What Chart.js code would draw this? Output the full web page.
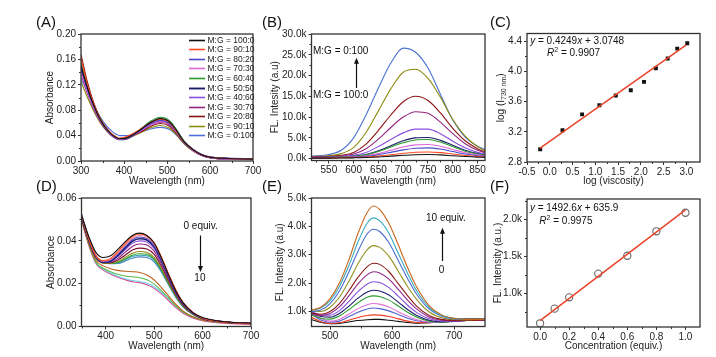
<!DOCTYPE html>
<html><head><meta charset="utf-8">
<script src="https://cdn.jsdelivr.net/npm/chart.js@4.4.1/dist/chart.umd.min.js"></script>
<style>
html,body{margin:0;padding:0;background:#fff;}
#wrap{position:relative;width:716px;height:357px;overflow:hidden;background:#fff;}
canvas{position:absolute;left:0;top:0;}
</style></head><body><div id="wrap">
<canvas id="cA" width="716" height="357"></canvas>
<canvas id="cB" width="716" height="357"></canvas>
<canvas id="cC" width="716" height="357"></canvas>
<canvas id="cD" width="716" height="357"></canvas>
<canvas id="cE" width="716" height="357"></canvas>
<canvas id="cF" width="716" height="357"></canvas>
</div>
<script>
// ---------------- Panel A: absorbance, M:G series ----------------
const A_WL = [300,315,330,345,360,375,390,405,420,440,460,485,505,520,540,560,580,600,640,700];
const A_LABELS = ['M:G = 100:0','M:G = 90:10','M:G = 80:20','M:G = 70:30','M:G = 60:40','M:G = 50:50','M:G = 40:60','M:G = 30:70','M:G = 20:80','M:G = 90:10','M:G = 0:100'];
const A_100_0 = [.150,.115,.087,.065,.050,.040,.035,.036,.041,.050,.060,.067,.062,.050,.030,.018,.010,.006,.004,.003];
const A_90_10 = [.162,.120,.089,.066,.051,.041,.036,.038,.043,.051,.060,.066,.061,.049,.030,.018,.010,.006,.004,.003];
const A_80_20 = [.148,.113,.086,.065,.050,.040,.035,.036,.041,.049,.058,.064,.059,.048,.029,.018,.010,.006,.004,.003];
const A_70_30 = [.140,.108,.083,.063,.049,.039,.034,.035,.040,.048,.056,.062,.058,.047,.029,.017,.009,.005,.003,.002];
const A_60_40 = [.158,.118,.088,.066,.050,.040,.034,.035,.041,.051,.062,.069,.064,.051,.031,.018,.010,.006,.004,.003];
const A_50_50 = [.145,.111,.085,.064,.049,.039,.034,.035,.040,.050,.060,.066,.062,.050,.030,.018,.010,.006,.004,.003];
const A_40_60 = [.155,.116,.087,.065,.050,.040,.035,.036,.041,.049,.058,.063,.059,.048,.029,.017,.009,.005,.003,.003];
const A_30_70 = [.138,.106,.081,.062,.048,.038,.034,.035,.040,.047,.056,.061,.057,.047,.029,.017,.009,.005,.003,.003];
const A_20_80 = [.168,.124,.091,.067,.051,.040,.035,.036,.040,.046,.054,.059,.055,.045,.028,.017,.009,.005,.003,.003];
const A_10_90 = [.125,.100,.078,.060,.047,.038,.034,.035,.039,.045,.052,.056,.052,.043,.027,.016,.009,.005,.003,.003];
const A_0_100 = [.130,.108,.087,.069,.055,.045,.040,.040,.042,.046,.050,.053,.050,.042,.027,.016,.009,.005,.003,.003];
const A_XTICKS = [300,400,500,600,700];
const A_XMINOR = [350,450,550,650];
const A_YTICKS = [0,0.04,0.08,0.12,0.16,0.20];
const A_YMINOR = [0.02,0.06,0.10,0.14,0.18];

// ---------------- Panel B: fluorescence, M:G series ----------------
const B_WL = [515,550,575,600,625,650,675,700,725,750,775,800,825,850,865];
const B_100_0 = [120,130,150,190,260,400,600,800,950,1000,900,700,500,350,300];
const B_90_10 = [150,170,200,260,380,600,950,1300,1550,1600,1450,1100,750,500,400];
const B_80_20 = [200,220,260,350,550,950,1500,2100,2500,2600,2300,1700,1100,700,550];
const B_70_30 = [200,250,300,420,700,1200,2000,2800,3300,3400,3000,2200,1400,900,700];
const B_60_40 = [250,300,380,550,900,1700,2800,3800,4500,4600,4000,2900,1800,1100,800];
const B_50_50 = [250,300,400,600,1000,1900,3100,4300,5000,5100,4400,3200,2000,1200,900];
const B_40_60 = [300,400,500,800,1500,2900,4600,6200,7100,7100,6000,4200,2600,1500,1100];
const B_30_70 = [350,450,650,1100,2400,4700,7500,10000,11300,10900,8800,6000,3600,2000,1400];
const B_20_80 = [400,550,800,1500,3500,6800,10500,13700,15000,14000,11000,7300,4300,2400,1600];
const B_10_90 = [500,700,1200,2700,6300,11500,16800,20800,21500,19300,14800,9400,5400,2900,1900];
const B_0_100 = [600,1000,2000,5000,10500,17000,23000,26600,25600,21800,15500,9300,5200,3000,2200];
const B_XTICKS = [550,600,650,700,750,800,850];
const B_XMINOR = [525,575,625,675,725,775,825];
const B_YTICKS = [0,5000,10000,15000,20000,25000,30000];
const B_YMINOR = [2500,7500,12500,17500,22500,27500];

// ---------------- Panel C: log(I730) vs log(viscosity) ----------------
const C_LOGVISC = [-0.21,0.28,0.71,1.09,1.45,1.78,2.07,2.33,2.59,2.80,3.02];
const C_LOGI = [2.97,3.22,3.43,3.55,3.68,3.75,3.86,4.04,4.17,4.30,4.37];
const C_FIT_X = [-0.22,3.0];
const C_FIT_Y = [2.9813,4.3495];
const C_XTICKS = [-0.5,0,0.5,1.0,1.5,2.0,2.5,3.0];
const C_XMINOR = [-0.25,0.25,0.75,1.25,1.75,2.25,2.75];
const C_YTICKS = [2.8,3.2,3.6,4.0,4.4];
const C_YMINOR = [3.0,3.4,3.8,4.2];

// ---------------- Panel D: absorbance titration ----------------
const D_WL = [350,365,380,395,410,425,440,455,470,485,500,515,530,545,560,580,600,630,660,700];
const D_S01 = [.0520,.0420,.0345,.0322,.0330,.0360,.0395,.0425,.0436,.0425,.0390,.0320,.0240,.0165,.0110,.0065,.0042,.0027,.0020,.0016];
const D_S02 = [.0515,.0410,.0330,.0308,.0318,.0350,.0388,.0420,.0432,.0424,.0392,.0325,.0245,.0170,.0112,.0066,.0040,.0025,.0018,.0014];
const D_S03 = [.0520,.0412,.0330,.0305,.0313,.0343,.0380,.0412,.0425,.0418,.0385,.0318,.0240,.0166,.0110,.0065,.0040,.0026,.0019,.0015];
const D_S04 = [.0525,.0415,.0330,.0303,.0310,.0338,.0373,.0405,.0418,.0410,.0378,.0312,.0236,.0163,.0108,.0064,.0040,.0026,.0019,.0016];
const D_S05 = [.0510,.0405,.0325,.0300,.0305,.0332,.0366,.0398,.0410,.0404,.0373,.0308,.0232,.0160,.0106,.0063,.0039,.0025,.0018,.0015];
const D_S06 = [.0515,.0408,.0326,.0300,.0303,.0327,.0358,.0388,.0400,.0394,.0365,.0302,.0228,.0158,.0105,.0062,.0039,.0025,.0019,.0016];
const D_S07 = [.0512,.0405,.0323,.0298,.0300,.0318,.0346,.0374,.0385,.0380,.0352,.0292,.0221,.0153,.0102,.0061,.0038,.0025,.0018,.0015];
const D_S08 = [.0508,.0402,.0322,.0298,.0298,.0310,.0333,.0357,.0366,.0362,.0337,.0281,.0213,.0148,.0099,.0060,.0038,.0025,.0018,.0015];
const D_S09 = [.0505,.0400,.0320,.0296,.0295,.0303,.0322,.0342,.0350,.0346,.0323,.0270,.0205,.0143,.0096,.0058,.0037,.0024,.0018,.0015];
const D_S10 = [.0510,.0402,.0320,.0296,.0294,.0299,.0315,.0333,.0340,.0337,.0315,.0264,.0200,.0140,.0094,.0057,.0036,.0024,.0018,.0015];
const D_S11 = [.0515,.0405,.0322,.0297,.0294,.0297,.0311,.0327,.0333,.0330,.0309,.0259,.0197,.0138,.0093,.0057,.0037,.0025,.0019,.0016];
const D_S12 = [.0520,.0408,.0324,.0298,.0293,.0294,.0305,.0319,.0325,.0322,.0302,.0254,.0193,.0135,.0091,.0056,.0037,.0025,.0019,.0016];
const D_S13 = [.0505,.0390,.0308,.0283,.0270,.0262,.0258,.0256,.0252,.0240,.0217,.0182,.0142,.0103,.0072,.0046,.0031,.0021,.0016,.0013];
const D_S14 = [.0500,.0385,.0300,.0272,.0256,.0244,.0236,.0232,.0228,.0218,.0198,.0168,.0132,.0097,.0068,.0044,.0030,.0021,.0016,.0013];
const D_S15 = [.0530,.0390,.0298,.0268,.0250,.0235,.0223,.0215,.0210,.0202,.0186,.0160,.0128,.0095,.0068,.0045,.0032,.0023,.0019,.0016];
const D_S16 = [.0495,.0378,.0293,.0263,.0245,.0230,.0218,.0209,.0204,.0195,.0178,.0152,.0120,.0088,.0062,.0040,.0027,.0018,.0013,.0010];
const D_XTICKS = [400,500,600,700];
const D_XMINOR = [350,450,550,650];
const D_YTICKS = [0,0.02,0.04,0.06];
const D_YMINOR = [0.01,0.03,0.05];

// ---------------- Panel E: fluorescence titration ----------------
const E_WL = [470,485,500,515,530,545,560,570,580,595,610,625,640,660,680,700,720,750];
const E_S13 = [1050,1150,1450,2000,2800,3750,4500,4720,4600,4100,3350,2550,1850,1200,880,760,720,720];
const E_S12 = [1050,1120,1380,1880,2600,3450,4120,4300,4200,3750,3050,2350,1720,1140,860,760,720,720];
const E_S11 = [1000,1050,1280,1720,2380,3120,3740,3900,3820,3420,2800,2160,1600,1080,830,740,720,720];
const E_S10 = [1020,1000,1150,1500,2050,2680,3180,3320,3260,2940,2420,1880,1420,980,780,720,710,720];
const E_S09 = [950,900,1000,1280,1720,2200,2580,2700,2660,2400,1980,1560,1180,860,720,680,680,700];
const E_S08 = [920,860,930,1160,1540,1970,2300,2400,2360,2140,1780,1400,1080,800,690,670,680,700];
const E_S07 = [1000,880,870,1030,1350,1700,1970,2050,2020,1840,1540,1220,960,740,660,660,680,700];
const E_S06 = [950,820,800,930,1180,1470,1690,1750,1720,1580,1330,1070,860,690,630,650,680,700];
const E_S05 = [880,760,730,840,1060,1310,1500,1550,1530,1400,1190,970,800,660,620,650,680,700];
const E_S04 = [950,750,660,720,900,1100,1240,1280,1260,1160,990,830,710,630,620,660,700,720];
const E_S03 = [900,700,620,660,810,970,1090,1120,1100,1020,890,760,670,620,640,680,710,720];
const E_S02 = [800,640,580,600,690,790,860,880,870,820,740,660,610,600,640,700,720,720];
const E_S01 = [720,620,570,580,630,680,710,720,720,690,650,610,590,600,660,720,740,740];
const E_XTICKS = [500,600,700];
const E_XMINOR = [550,650];
const E_YTICKS = [1000,2000,3000,4000,5000];
const E_YMINOR = [1500,2500,3500,4500];

// ---------------- Panel F: intensity vs concentration ----------------
const F_CONC = [0,0.1,0.2,0.4,0.6,0.8,1.0];
const F_INT = [600,797,950,1270,1510,1840,2090];
const F_FIT_X = [0,1.0];
const F_FIT_Y = [635.9,2128.5];
const F_XTICKS = [0,0.2,0.4,0.6,0.8,1.0];
const F_XMINOR = [0.1,0.3,0.5,0.7,0.9];
const F_YTICKS = [1000,1500,2000];
const F_YMINOR = [750,1250,1750,2250];

// ---------------- helpers ----------------
const FONT = "'Liberation Sans', Arial, Helvetica, sans-serif";
Chart.defaults.font.family = FONT;
Chart.defaults.color = '#222';
const W = 716, H = 357;

function lineSet(xs, ys, color, label, w) {
  return {label: label, data: xs.map((x,i)=>({x:x, y:ys[i]})), borderColor: color, backgroundColor: color,
    borderWidth: w || 1.1, pointRadius: 0, cubicInterpolationMode: 'monotone', fill: false};
}
const kfmt = v => (v/1000).toFixed(1) + 'k';

function axis(o, isX, size) {
  return {
    type: 'linear', min: o.min, max: o.max, position: isX ? 'bottom' : 'left',
    afterBuildTicks: s => { s.ticks = o.ticks.map(v => ({value: v})); },
    afterFit: s => { if (isX) s.height = size; else s.width = size; },
    ticks: {font: {size: 10}, color: '#222', padding: isX ? 1 : 2, maxRotation: 0, autoSkip: false,
      callback: v => o.fmt(v)},
    grid: {drawOnChartArea: false, drawTicks: true, tickLength: 3, color: '#333', lineWidth: 1},
    border: {display: false},
    title: {display: o.title !== null, text: o.title || '', font: {size: 10}, color: '#222', padding: 0}
  };
}

function drawSegs(ctx, segs, x, y, size, align) {
  const fonts = segs.map(s => (s.i ? 'italic ' : '') + ((s.sup || s.sub) ? size * 0.7 : size) + 'px ' + FONT);
  let tot = 0;
  const ws = segs.map((s, k) => { ctx.font = fonts[k]; const w = ctx.measureText(s.t).width; tot += w; return w; });
  let cx = align === 'center' ? x - tot / 2 : x;
  ctx.textBaseline = 'middle'; ctx.textAlign = 'left';
  segs.forEach((s, k) => {
    ctx.font = fonts[k];
    let yy = y; if (s.sup) yy = y - size * 0.35; if (s.sub) yy = y + size * 0.3;
    ctx.fillText(s.t, cx, yy); cx += ws[k];
  });
}

function framePlugin(f) {
  return {
    id: 'frame',
    afterDraw(chart) {
      const ctx = chart.ctx, a = chart.chartArea, xs = chart.scales.x, ys = chart.scales.y;
      ctx.save();
      ctx.strokeStyle = '#333'; ctx.lineWidth = 1;
      (f.xMinor || []).forEach(v => { const p = Math.round(xs.getPixelForValue(v)) + 0.5; ctx.beginPath(); ctx.moveTo(p, a.bottom); ctx.lineTo(p, a.bottom + 2); ctx.stroke(); });
      (f.yMinor || []).forEach(v => { const p = Math.round(ys.getPixelForValue(v)) + 0.5; ctx.beginPath(); ctx.moveTo(a.left, p); ctx.lineTo(a.left - 2, p); ctx.stroke(); });
      ctx.lineWidth = 1.3; ctx.strokeStyle = '#333';
      ctx.strokeRect(a.left, a.top, a.right - a.left, a.bottom - a.top);
      ctx.fillStyle = '#111';
      // panel label
      ctx.font = '15px ' + FONT; ctx.textBaseline = 'middle'; ctx.textAlign = 'left';
      ctx.fillText(f.panel.t, f.panel.x, f.panel.y);
      // annotations
      (f.texts || []).forEach(t => {
        drawSegs(ctx, t.segs, xs.getPixelForValue(t.x), ys.getPixelForValue(t.y), t.size || 10, t.align || 'left');
      });
      (f.arrows || []).forEach(ar => {
        const x = Math.round(xs.getPixelForValue(ar.x)) + 0.5, y0 = ys.getPixelForValue(ar.y0), y1 = ys.getPixelForValue(ar.y1);
        const dir = y1 < y0 ? -1 : 1;
        ctx.strokeStyle = '#111'; ctx.lineWidth = 1.2;
        ctx.beginPath(); ctx.moveTo(x, y0); ctx.lineTo(x, y1 - dir * 4); ctx.stroke();
        ctx.beginPath(); ctx.moveTo(x, y1); ctx.lineTo(x - 2.5, y1 - dir * 6); ctx.lineTo(x + 2.5, y1 - dir * 6); ctx.closePath(); ctx.fill();
      });
      // legend
      if (f.legend) {
        const L = f.legend;
        chart.data.datasets.forEach((ds, i) => {
          const y = Math.round(L.y + i * L.dy) + 0.5;
          ctx.strokeStyle = ds.borderColor; ctx.lineWidth = Math.max(1.6, ds.borderWidth);
          ctx.beginPath(); ctx.moveTo(L.x, y); ctx.lineTo(L.x + L.len, y); ctx.stroke();
          ctx.fillStyle = '#222'; ctx.font = L.size + 'px ' + FONT; ctx.textAlign = 'left'; ctx.textBaseline = 'middle';
          ctx.fillText(ds.label, L.x + L.len + 2.5, y + 0.5);
        });
      }
      // rotated custom y title
      if (f.yTitle) {
        ctx.save(); ctx.fillStyle = '#222';
        ctx.translate(f.yTitle.x, (a.top + a.bottom) / 2); ctx.rotate(-Math.PI / 2);
        drawSegs(ctx, f.yTitle.segs, 0, 0, 10, 'center');
        ctx.restore();
      }
      ctx.restore();
    }
  };
}

function build(id, p) {
  return new Chart(document.getElementById(id), {
    type: p.type || 'line',
    data: {datasets: p.datasets},
    options: {
      responsive: false, animation: false, events: [],
      layout: {padding: {left: p.area.l - p.yW, right: W - p.area.r, top: p.area.t, bottom: H - p.area.b - p.xH}},
      plugins: {legend: {display: false}, tooltip: {enabled: false}},
      scales: {x: axis(p.x, true, p.xH), y: axis(p.y, false, p.yW)}
    },
    plugins: [framePlugin(p.frame)]
  });
}

// ---------------- colours ----------------
const MG_COLORS = ['#111111','#ff4a22','#4848c8','#e066d6','#2e9a2e','#1c1c6c','#8a4fe0','#92267f','#8b1414','#8c8c10','#4a72d2'];
const D_COLORS = ['#111111','#ff4a22','#f07a8a','#4848c8','#1c1c6c','#8a4fe0','#92267f','#7a1030','#8c8c10','#2e9a2e','#34a6b0','#4a80c8','#b8601c','#58b848','#6cd0e8','#d8408a'];
const E_COLORS = ['#c8661a','#3aaabb','#4a6ed0','#939320','#8b1a1a','#902a8a','#8a52dc','#1e1e70','#2e9a2e','#e070d2','#5060d0','#f23a20','#111111'];

// ---------------- Panel A ----------------
const A_CURVES = [A_100_0,A_90_10,A_80_20,A_70_30,A_60_40,A_50_50,A_40_60,A_30_70,A_20_80,A_10_90,A_0_100];
build('cA', {
  area: {l: 81, r: 253, t: 34, b: 161}, yW: 36.5, xH: 26,
  datasets: A_CURVES.map((c, i) => lineSet(A_WL, c, MG_COLORS[i], A_LABELS[i], i === 5 ? 1.9 : 1.1)),
  x: {min: 300, max: 700, ticks: A_XTICKS, fmt: v => String(v), title: 'Wavelength (nm)'},
  y: {min: 0, max: 0.2, ticks: A_YTICKS, fmt: v => v.toFixed(2), title: 'Absorbance'},
  frame: {panel: {t: '(A)', x: 36, y: 23}, xMinor: A_XMINOR, yMinor: A_YMINOR,
    legend: {x: 189, y: 39.7, dy: 9.56, len: 16, size: 8.5}}
});

// ---------------- Panel B ----------------
const B_CURVES = [B_100_0,B_90_10,B_80_20,B_70_30,B_60_40,B_50_50,B_40_60,B_30_70,B_20_80,B_10_90,B_0_100];
build('cB', {
  area: {l: 311.5, r: 485, t: 34, b: 160.5}, yW: 41.8, xH: 26.5,
  datasets: B_CURVES.map((c, i) => lineSet(B_WL, c, MG_COLORS[i], A_LABELS[i], 1.1)),
  x: {min: 515, max: 865, ticks: B_XTICKS, fmt: v => String(v), title: 'Wavelength (nm)'},
  y: {min: -450, max: 30000, ticks: B_YTICKS, fmt: kfmt, title: 'FL. Intesity (a.u)'},
  frame: {panel: {t: '(B)', x: 262, y: 23}, xMinor: B_XMINOR, yMinor: B_YMINOR,
    texts: [{x: 518, y: 25740, segs: [{t: 'M:G = 0:100'}]}, {x: 518, y: 15320, segs: [{t: 'M:G = 100:0'}]}],
    arrows: [{x: 604, y0: 17000, y1: 24300}]}
});

// ---------------- Panel C ----------------
build('cC', {
  type: 'scatter',
  area: {l: 527, r: 700, t: 33.5, b: 162}, yW: 32.3, xH: 25.5,
  datasets: [
    {data: C_FIT_X.map((x, i) => ({x: x, y: C_FIT_Y[i]})), showLine: true, borderColor: '#e8442a', borderWidth: 1.5, pointRadius: 0},
    {data: C_LOGVISC.map((x, i) => ({x: x, y: C_LOGI[i]})), showLine: false, pointStyle: 'rect', pointRadius: 2.8,
      backgroundColor: '#111', borderColor: '#111', borderWidth: 0}
  ],
  x: {min: -0.5, max: 3.3, ticks: C_XTICKS, fmt: v => v.toFixed(1), title: 'log (viscosity)'},
  y: {min: 2.8, max: 4.5, ticks: C_YTICKS, fmt: v => v.toFixed(1), title: null},
  frame: {panel: {t: '(C)', x: 490, y: 23}, xMinor: C_XMINOR, yMinor: C_YMINOR,
    yTitle: {x: 501, segs: [{t: 'log (I'}, {t: '730 nm', sub: true}, {t: ')'}]},
    texts: [{x: -0.43, y: 4.4, segs: [{t: 'y', i: true}, {t: ' = 0.4249'}, {t: 'x', i: true}, {t: ' + 3.0748'}]},
            {x: -0.06, y: 4.24, segs: [{t: 'R', i: true}, {t: '2', sup: true}, {t: ' = 0.9907'}]}]}
});

// ---------------- Panel D ----------------
const D_CURVES = [D_S01,D_S02,D_S03,D_S04,D_S05,D_S06,D_S07,D_S08,D_S09,D_S10,D_S11,D_S12,D_S13,D_S14,D_S15,D_S16];
build('cD', {
  area: {l: 81.5, r: 251, t: 198, b: 326.5}, yW: 36.5, xH: 26,
  datasets: D_CURVES.map((c, i) => lineSet(D_WL, c, D_COLORS[i], 'D' + (i + 1), i === 4 ? 1.6 : 1.1)),
  x: {min: 350, max: 700, ticks: D_XTICKS, fmt: v => String(v), title: 'Wavelength (nm)'},
  y: {min: 0, max: 0.06, ticks: D_YTICKS, fmt: v => v.toFixed(2), title: 'Absorbance'},
  frame: {panel: {t: '(D)', x: 36, y: 187}, xMinor: D_XMINOR, yMinor: D_YMINOR,
    texts: [{x: 596, y: 0.0468, segs: [{t: '0 equiv.'}], align: 'center'}, {x: 594.5, y: 0.0226, segs: [{t: '10'}], align: 'center'}],
    arrows: [{x: 594.5, y0: 0.0425, y1: 0.0255}]}
});

// ---------------- Panel E ----------------
const E_CURVES = [E_S13,E_S12,E_S11,E_S10,E_S09,E_S08,E_S07,E_S06,E_S05,E_S04,E_S03,E_S02,E_S01];
build('cE', {
  area: {l: 311.5, r: 485, t: 198, b: 326.5}, yW: 37.5, xH: 26,
  datasets: E_CURVES.map((c, i) => lineSet(E_WL, c, E_COLORS[i], 'E' + (i + 1), 1.1)),
  x: {min: 470, max: 750, ticks: E_XTICKS, fmt: v => String(v), title: 'Wavelength (nm)'},
  y: {min: 470, max: 5000, ticks: E_YTICKS, fmt: kfmt, title: 'FL. Intensity (a.u)'},
  frame: {panel: {t: '(E)', x: 262, y: 187}, xMinor: E_XMINOR, yMinor: E_YMINOR,
    texts: [{x: 687, y: 4270, segs: [{t: '10 equiv.'}], align: 'center'}, {x: 680, y: 2450, segs: [{t: '0'}], align: 'center'}],
    arrows: [{x: 680, y0: 2780, y1: 3950}]}
});

// ---------------- Panel F ----------------
build('cF', {
  type: 'scatter',
  area: {l: 527, r: 700, t: 199, b: 327}, yW: 34.7, xH: 25.5,
  datasets: [
    {data: F_FIT_X.map((x, i) => ({x: x, y: F_FIT_Y[i]})), showLine: true, borderColor: '#e8442a', borderWidth: 1.5, pointRadius: 0},
    {data: F_CONC.map((x, i) => ({x: x, y: F_INT[i]})), showLine: false, pointStyle: 'circle', pointRadius: 3.6,
      backgroundColor: 'rgba(255,255,255,0)', borderColor: '#666', borderWidth: 1.1}
  ],
  x: {min: -0.09, max: 1.1, ticks: F_XTICKS, fmt: v => v.toFixed(1), title: 'Concentration (equiv.)'},
  y: {min: 550, max: 2275, ticks: F_YTICKS, fmt: kfmt, title: 'FL. Intensity (a.u.)'},
  frame: {panel: {t: '(F)', x: 490, y: 187}, xMinor: F_XMINOR, yMinor: F_YMINOR,
    texts: [{x: -0.07, y: 2150, segs: [{t: 'y', i: true}, {t: ' = 1492.6'}, {t: 'x', i: true}, {t: ' + 635.9'}]},
            {x: -0.005, y: 1970, segs: [{t: 'R', i: true}, {t: '2', sup: true}, {t: ' = 0.9975'}]}]}
});
</script>
</body></html>
